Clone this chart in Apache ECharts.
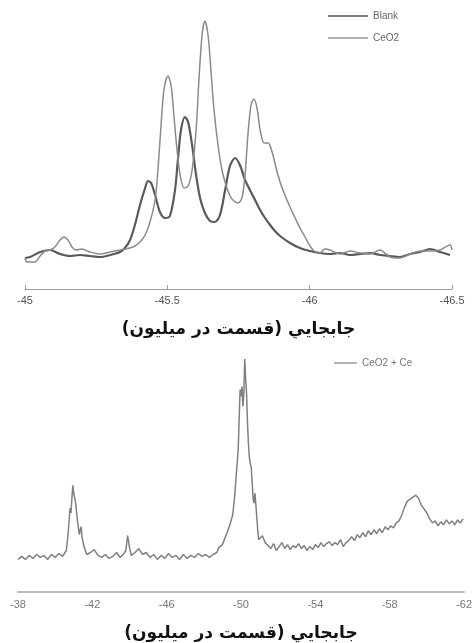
<!DOCTYPE html>
<html><head><meta charset="utf-8">
<script src="https://cdn.jsdelivr.net/npm/echarts@6/dist/echarts.min.js"></script>
<style>html,body{margin:0;padding:0;background:#fff}#c{width:475px;height:643px}</style>
</head><body><div id="c"></div>
<script>
// Top chart: chemical shift (ppm) and intensity
const blankX = [-45.000,-45.018,-45.053,-45.088,-45.123,-45.158,-45.193,-45.228,-45.263,-45.299,-45.334,-45.351,-45.369,-45.386,-45.404,-45.422,-45.432,-45.443,-45.457,-45.474,-45.492,-45.509,-45.527,-45.537,-45.548,-45.562,-45.573,-45.587,-45.601,-45.615,-45.632,-45.650,-45.667,-45.685,-45.703,-45.720,-45.738,-45.755,-45.773,-45.790,-45.808,-45.826,-45.843,-45.861,-45.878,-45.896,-45.931,-45.966,-46.001,-46.036,-46.071,-46.107,-46.142,-46.177,-46.212,-46.247,-46.282,-46.317,-46.353,-46.388,-46.423,-46.458,-46.493];
const blankY = [31,32,37,39,35,33,34,33,32,34,37,41,49,64,84,101,108,106,94,77,71,73,99,129,159,172,167,144,114,91,76,68,67,74,99,123,131,124,109,99,89,79,71,64,58,53,46,41,38,36,35,36,34,35,36,34,33,32,35,37,40,37,34];
const ceo2X = [-45.000,-45.007,-45.035,-45.053,-45.070,-45.088,-45.105,-45.123,-45.137,-45.151,-45.165,-45.179,-45.200,-45.228,-45.263,-45.299,-45.334,-45.351,-45.369,-45.386,-45.404,-45.422,-45.439,-45.457,-45.467,-45.478,-45.488,-45.502,-45.513,-45.523,-45.534,-45.545,-45.559,-45.573,-45.587,-45.601,-45.611,-45.622,-45.632,-45.643,-45.653,-45.664,-45.678,-45.692,-45.706,-45.720,-45.734,-45.748,-45.762,-45.773,-45.783,-45.794,-45.804,-45.815,-45.826,-45.840,-45.854,-45.868,-45.882,-45.896,-45.913,-45.931,-45.949,-45.966,-45.984,-46.001,-46.019,-46.036,-46.054,-46.071,-46.107,-46.142,-46.177,-46.212,-46.247,-46.282,-46.317,-46.353,-46.388,-46.423,-46.458,-46.493,-46.500];
const ceo2Y = [31,27,27,33,38,39,42,49,52,49,42,39,40,37,35,37,39,40,41,43,47,54,67,89,119,164,199,213,204,174,139,114,101,103,119,159,209,254,268,254,219,179,144,119,104,93,88,86,91,114,154,184,190,181,159,146,146,137,121,107,94,82,71,61,52,43,37,36,40,39,35,38,36,35,39,32,31,35,38,38,39,44,39];
const topTicks = ['-45','-45.5','-46','-46.5'];

// Bottom chart
const ceceX = [-38.0,-38.2,-38.4,-38.6,-38.8,-39.0,-39.2,-39.4,-39.6,-39.8,-40.0,-40.2,-40.4,-40.5,-40.6,-40.7,-40.8,-40.85,-40.9,-40.95,-41.0,-41.05,-41.1,-41.2,-41.3,-41.35,-41.4,-41.45,-41.55,-41.7,-41.9,-42.1,-42.3,-42.5,-42.7,-42.9,-43.1,-43.3,-43.5,-43.7,-43.8,-43.9,-44.0,-44.1,-44.3,-44.5,-44.7,-44.9,-45.1,-45.3,-45.5,-45.7,-45.9,-46.1,-46.3,-46.5,-46.7,-46.9,-47.1,-47.3,-47.5,-47.7,-47.9,-48.1,-48.3,-48.5,-48.7,-48.8,-49.0,-49.1,-49.25,-49.4,-49.55,-49.65,-49.75,-49.85,-49.95,-50.0,-50.05,-50.1,-50.15,-50.2,-50.25,-50.3,-50.35,-50.4,-50.45,-50.5,-50.55,-50.65,-50.7,-50.75,-50.8,-50.9,-50.95,-51.05,-51.15,-51.3,-51.45,-51.6,-51.75,-51.9,-52.05,-52.2,-52.35,-52.5,-52.65,-52.8,-52.95,-53.1,-53.25,-53.4,-53.55,-53.7,-53.85,-54.0,-54.15,-54.3,-54.45,-54.6,-54.75,-54.9,-55.05,-55.2,-55.35,-55.5,-55.65,-55.8,-55.95,-56.1,-56.25,-56.4,-56.55,-56.7,-56.85,-57.0,-57.15,-57.3,-57.45,-57.6,-57.75,-57.9,-58.05,-58.2,-58.35,-58.5,-58.65,-58.8,-58.95,-59.1,-59.25,-59.4,-59.55,-59.7,-59.85,-60.0,-60.15,-60.3,-60.45,-60.6,-60.75,-60.9,-61.05,-61.2,-61.35,-61.5,-61.65,-61.8,-61.95];
const ceceY = [33,36,33,37,34,38,35,37,33,38,35,39,36,38,42,60,85,80,95,108,100,98,90,72,58,63,66,55,46,38,40,43,37,35,38,34,36,40,35,39,42,57,45,37,40,44,38,40,35,38,33,37,34,39,35,37,33,38,34,37,35,39,36,38,35,38,40,45,48,53,60,68,78,95,120,145,205,198,208,188,200,236,215,200,170,150,136,130,126,95,90,100,88,62,53,55,57,50,47,44,49,42,46,50,44,48,43,47,45,49,44,47,42,46,43,48,45,50,46,49,51,47,50,48,53,46,50,52,56,52,58,55,60,56,62,58,63,59,64,60,66,63,67,65,70,72,78,86,92,94,96,98,95,88,84,80,74,70,72,67,71,68,73,69,72,68,73,70,74];
const botTicks = ['-38','-42','-46','-50','-54','-58','-62'];

const titleText = 'جابجايي (قسمت در ميليون)';
const pair = (xs, ys) => xs.map((x, i) => [x, ys[i]]);

const chart = echarts.init(document.getElementById('c'), null, {renderer: 'canvas'});
const axisLabelStyle = {color: '#555', fontSize: 11, fontFamily: 'Liberation Sans, Arial, sans-serif'};
const nameStyle = {color: '#111', fontSize: 17, fontWeight: 'bold', fontFamily: 'DejaVu Sans, sans-serif'};
const legendText = {color: '#666', fontSize: 10, fontFamily: 'Liberation Sans, Arial, sans-serif'};
chart.setOption({
  animation: false,
  backgroundColor: '#fff',
  grid: [
    {left: 25, right: 23, top: 19, bottom: 354},
    {left: 18, right: 5, top: 352, bottom: 48}
  ],
  legend: [
    {data: [{name: 'Blank', itemStyle: {color: '#555'}}, {name: 'CeO2', itemStyle: {color: '#999'}}],
     orient: 'vertical', left: 328, top: 11, padding: 0, icon: 'rect', itemWidth: 40, itemHeight: 1.5, itemGap: 12,
     itemStyle: {borderWidth: 0}, textStyle: legendText},
    {data: [{name: 'CeO2 + Ce', itemStyle: {color: '#999'}}], orient: 'vertical', left: 334, top: 358, padding: 0,
     icon: 'rect', itemWidth: 23, itemHeight: 1.5, itemStyle: {borderWidth: 0},
     textStyle: Object.assign({}, legendText, {color: '#777'})}
  ],
  xAxis: [
    {gridIndex: 0, type: 'value', min: -46.5, max: -45, interval: 0.5, inverse: true,
     axisLine: {show: true, lineStyle: {color: '#999', width: 1}},
     axisTick: {show: true, inside: true, length: 4, lineStyle: {color: '#999'}},
     splitLine: {show: false},
     axisLabel: Object.assign({margin: 6, showMinLabel: true, showMaxLabel: true,
       formatter: v => topTicks[Math.round((-45 - v) / 0.5)] || ''}, axisLabelStyle),
     name: titleText, nameLocation: 'middle', nameGap: 32, nameTextStyle: nameStyle},
    {gridIndex: 1, type: 'value', min: -62, max: -38, interval: 4, inverse: true,
     axisLine: {show: true, lineStyle: {color: '#bbb', width: 2}},
     axisTick: {show: false},
     splitLine: {show: false},
     axisLabel: Object.assign({margin: 7, showMinLabel: true, showMaxLabel: true,
       formatter: v => botTicks[Math.round((-38 - v) / 4)] || ''}, axisLabelStyle, {color: '#777'}),
     name: titleText, nameLocation: 'middle', nameGap: 33, nameTextStyle: nameStyle}
  ],
  yAxis: [
    {gridIndex: 0, type: 'value', min: 0, max: 270, show: false},
    {gridIndex: 1, type: 'value', min: 0, max: 243, show: false}
  ],
  series: [
    {name: 'Blank', type: 'line', xAxisIndex: 0, yAxisIndex: 0, data: pair(blankX, blankY),
     symbol: 'none', smooth: 0.3, lineStyle: {color: '#5a5a5a', width: 2.2}, itemStyle: {color: '#5a5a5a'}},
    {name: 'CeO2', type: 'line', xAxisIndex: 0, yAxisIndex: 0, data: pair(ceo2X, ceo2Y),
     symbol: 'none', smooth: 0.3, lineStyle: {color: '#8a8a8a', width: 1.5}, itemStyle: {color: '#8a8a8a'}},
    {name: 'CeO2 + Ce', type: 'line', xAxisIndex: 1, yAxisIndex: 1, data: pair(ceceX, ceceY),
     symbol: 'none', lineStyle: {color: '#808080', width: 1.5}, itemStyle: {color: '#808080'}}
  ]
});
</script></body></html>
